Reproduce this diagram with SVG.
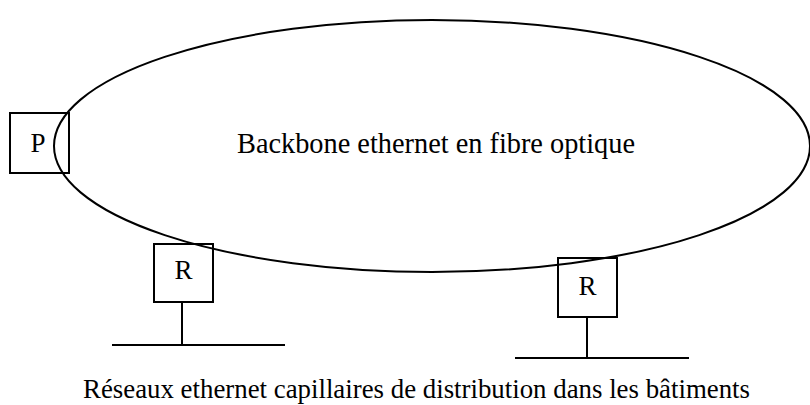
<svg xmlns="http://www.w3.org/2000/svg" width="810" height="405" viewBox="0 0 810 405">
<style>
.s{fill:none;stroke:#000;stroke-width:2}
.b{fill:none;stroke:#000;stroke-width:2}
.t{font-family:"Liberation Serif","Times New Roman",serif;fill:#000}
.l{font-size:27px;text-anchor:middle}
</style>
<rect width="810" height="405" fill="#fff"/>
<g id="P"><rect class="b" x="10" y="113" width="59" height="60"/><text class="t l" x="38" y="152">P</text></g>
<g id="R1"><rect class="b" x="154" y="244" width="59" height="58"/><text class="t l" x="183.5" y="279">R</text></g>
<g id="R2"><rect class="b" x="558" y="258" width="59" height="59"/><text class="t l" x="587.5" y="295">R</text></g>
<g id="backbone"><ellipse class="s" cx="432" cy="146" rx="378" ry="126"/>
<text class="t" x="237" y="153" font-size="30" textLength="398" lengthAdjust="spacingAndGlyphs">Backbone ethernet en fibre optique</text></g>
<g id="connectors">
<line class="s" x1="182" y1="302" x2="182" y2="345"/>
<line class="s" x1="112" y1="345" x2="285" y2="345"/>
<line class="s" x1="587" y1="317" x2="587" y2="358"/>
<line class="s" x1="515" y1="358" x2="689" y2="358"/>
</g>
<text class="t" x="83" y="398" font-size="28" textLength="667" lengthAdjust="spacingAndGlyphs">Réseaux ethernet capillaires de distribution dans les bâtiments</text>
</svg>
